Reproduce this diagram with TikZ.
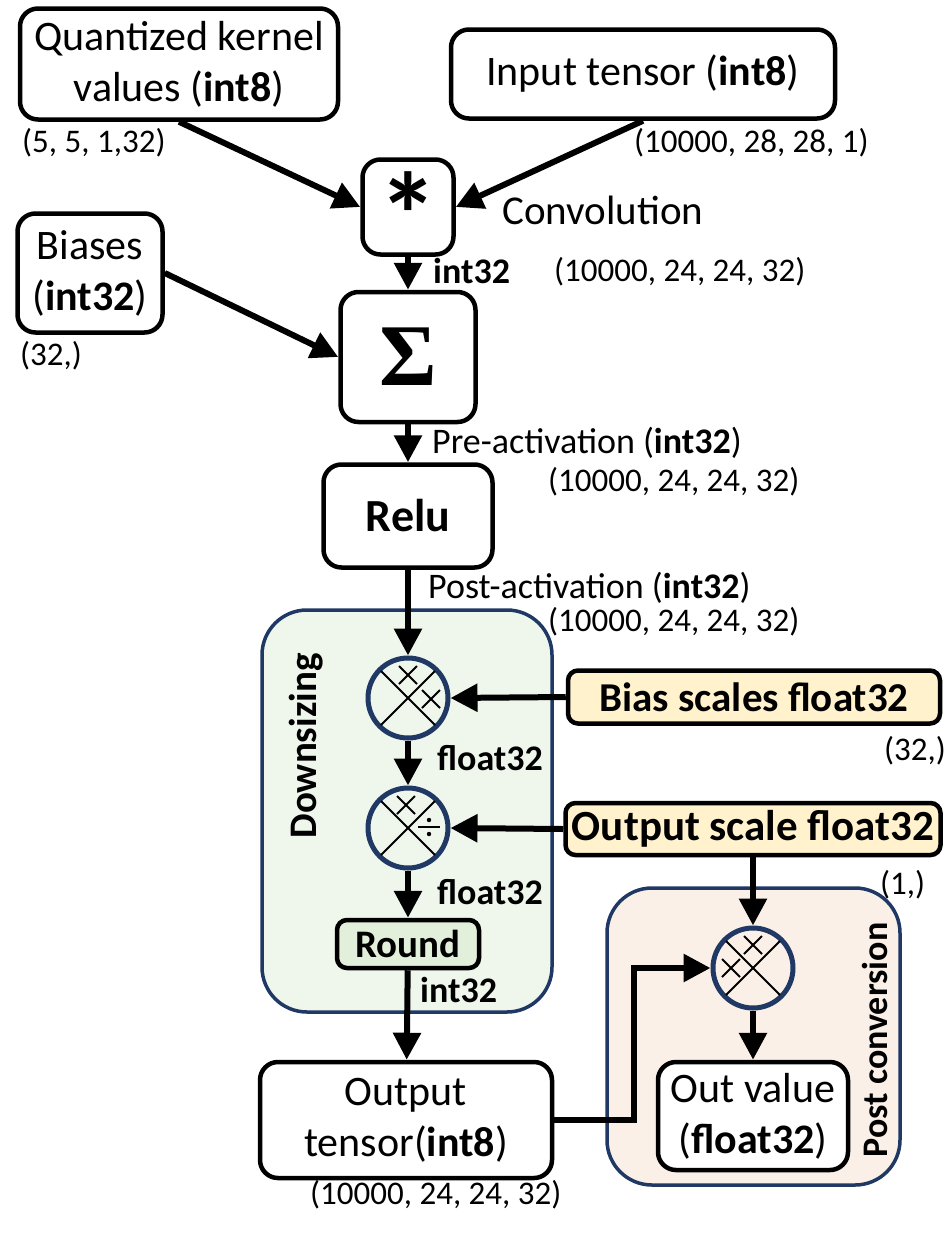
\documentclass[tikz,border=0pt]{standalone}
\usepackage{fontspec}
\setmainfont{Carlito}
\newfontfamily\sigfont{Liberation Serif}
\usetikzlibrary{arrows.meta,calc}
\definecolor{navy}{HTML}{1F3864}
\definecolor{dsfill}{HTML}{EFF6EC}
\definecolor{roundfill}{HTML}{E2EFDA}
\definecolor{scalefill}{HTML}{FFF2CC}
\definecolor{pcfill}{HTML}{FBF0E7}
\newcommand\smallx[3]{\draw[xline] ($(#1)+(#2-9,#3-9)$) -- ($(#1)+(#2+9,#3+9)$); \draw[xline] ($(#1)+(#2-9,#3+9)$) -- ($(#1)+(#2+9,#3-9)$);}
\newcommand\bigx[1]{\draw[xline] ($(#1)+(-27,-27)$) -- ($(#1)+(27,27)$); \draw[xline] ($(#1)+(-27,27)$) -- ($(#1)+(27,-27)$);}
\begin{document}
\begin{tikzpicture}[x=1pt,y=-1pt,
  box/.style={draw=black,line width=4.5pt,rounded corners=18pt,fill=white,align=center,inner sep=0pt,font=\fontsize{42}{51}\selectfont},
  scalebox/.style={draw=black,line width=4.5pt,rounded corners=10pt,fill=scalefill,inner sep=0pt},
  group/.style={draw=navy,line width=3.5pt,rounded corners=45pt},
  circ/.style={circle,draw=navy,line width=5pt,minimum size=80pt,inner sep=0pt},
  xline/.style={line width=2pt,black},
  arr/.style={line width=6pt,-{Triangle[length=27pt,width=27pt]}},
  dim/.style={anchor=west,inner sep=0pt,font=\fontsize{33}{36}\selectfont},
  blab/.style={anchor=west,inner sep=0pt,font=\fontsize{36}{40}\selectfont\bfseries},
  mlab/.style={anchor=west,inner sep=0pt,font=\fontsize{36}{40}\selectfont},
  vlab/.style={rotate=90,inner sep=0pt,font=\fontsize{36}{40}\selectfont\bfseries}]
\useasboundingbox (0,0) rectangle (952,1235);

% groups
\draw[group,fill=dsfill] (262,610) rectangle (552,1012);
\draw[group,fill=pcfill] (607,888) rectangle (900,1185);
\node[vlab,font=\fontsize{39}{42}\selectfont\bfseries] (dslab) at (306,746) {Downsizing};
\node[vlab] (pclab) at (875,1040) {Post conversion};

% boxes
\node[box,minimum width=318pt,minimum height=111pt] (kernel) at (179,64) {Quantized kernel\\values (\textbf{int8})};
\node[box,minimum width=384pt,minimum height=89pt] (input) at (643,74) {Input tensor (\textbf{int8})};
\node[box,minimum width=91pt,minimum height=95pt] (conv) at (408,207) {};
\node[anchor=base,inner sep=0pt,font=\fontsize{120}{120}\selectfont\bfseries] (star) at (408,257) {*};
\node[box,minimum width=145pt,minimum height=119pt] (biases) at (90,273) {Biases\\(\textbf{int32})};
\node[box,minimum width=135pt,minimum height=130pt,font=\fontsize{88}{88}\selectfont\sigfont\bfseries] (sigma) at (408,357) {Σ};
\node[box,minimum width=169pt,minimum height=103pt,font=\fontsize{46}{50}\selectfont\bfseries] (relu) at (408,516) {Relu};
\node[circ] (c1) at (408,698) {};
\node[circ] (c2) at (408,828) {};
\node[circ] (c3) at (753,968) {};
\node[scalebox,minimum width=372pt,minimum height=53pt,font=\fontsize{41}{46}\selectfont\bfseries] (bscale) at (754,697) {Bias scales float32};
\node[scalebox,minimum width=375pt,minimum height=52pt,font=\fontsize{43}{46}\selectfont\bfseries] (oscale) at (753,829) {Output scale float32};
\node[box,rounded corners=10pt,fill=roundfill,minimum width=142pt,minimum height=48pt,font=\fontsize{39}{44}\selectfont\bfseries] (round) at (408,944) {Round};
\node[box,minimum width=292pt,minimum height=116pt] (otensor) at (406,1120) {Output\\tensor(\textbf{int8})};
\node[box,minimum width=190pt,minimum height=108pt] (outval) at (753,1116) {Out value\\(\textbf{float32})};

% circle symbols
\bigx{c1} \smallx{c1}{0}{-23} \smallx{c1}{23}{1}
\bigx{c2} \smallx{c2}{-2}{-23}
\draw[xline] ($(c2)+(10,-1)$) -- ($(c2)+(32,-1)$);
\fill ($(c2)+(21,-8)$) circle (2.2pt);
\fill ($(c2)+(21,6)$) circle (2.2pt);
\bigx{c3} \smallx{c3}{0}{-23} \smallx{c3}{-22}{0}

% labels
\node[dim] (l1) at (22,143) {(5, 5, 1,32)};
\node[dim] (l2) at (634,143) {(10000, 28, 28, 1)};
\node[mlab,font=\fontsize{41}{44}\selectfont] (l3) at (502,210) {Convolution};
\node[blab] (l4) at (433,271) {int32};
\node[dim] (l5) at (554,272) {(10000, 24, 24, 32)};
\node[dim] (l6) at (20,356) {(32,)};
\node[mlab] (l7) at (432,443) {Pre-activation (\textbf{int32})};
\node[dim] (l8) at (548,482) {(10000, 24, 24, 32)};
\node[mlab] (l9) at (428,588) {Post-activation (\textbf{int32})};
\node[dim] (l10) at (548,622) {(10000, 24, 24, 32)};
\node[blab] (l11) at (437,758) {float32};
\node[dim] (l12) at (884,751) {(32,)};
\node[blab] (l13) at (437,892) {float32};
\node[dim] (l14) at (880,885) {(1,)};
\node[blab] (l15) at (420,990) {int32};
\node[dim] (l16) at (310,1195) {(10000, 24, 24, 32)};

% connectors
\draw[arr] (kernel.south) -- (conv.west);
\draw[arr] (input.south) -- (conv.east);
\draw[arr] (conv) -- (sigma);
\draw[arr] (biases.east) -- (sigma.west);
\draw[arr] (sigma) -- (relu);
\draw[arr] (relu.south) -- (c1.north);
\draw[arr] (bscale.west) -- (c1.east);
\draw[arr] (c1) -- (c2);
\draw[arr] (oscale.west) -- (c2.east);
\draw[arr] (c2.south) -- (round.north);
\draw[arr] (round) -- (otensor);
\draw[arr] (c3.north |- oscale.south) -- (c3.north);
\draw[arr] (otensor.east) -- ++(80,0) |- (c3.west);
\draw[arr] (c3) -- (outval);
\end{tikzpicture}
\end{document}
